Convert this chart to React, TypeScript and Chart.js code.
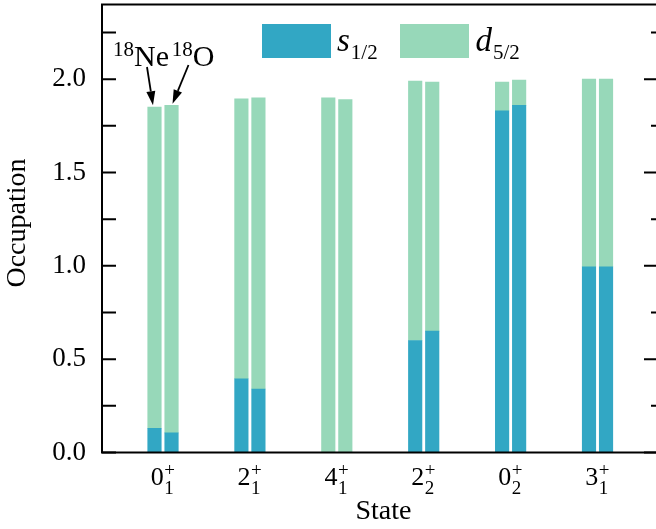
import React, { useEffect, useRef } from 'react';
import { Chart, registerables } from 'chart.js';

Chart.register(...registerables);

// ---- data ----
const stateSpin = ['0', '2', '4', '2', '0', '3'];
const stateIndex = ['1', '1', '1', '2', '2', '1'];
// 18Ne (left bar of each pair)
const neS = [0.13, 0.395, 0.0, 0.6, 1.83, 0.995];
const neD = [1.72, 1.5, 1.9, 1.39, 0.155, 1.005];
// 18O (right bar of each pair)
const oS = [0.105, 0.34, 0.0, 0.65, 1.86, 0.995];
const oD = [1.755, 1.56, 1.89, 1.335, 0.135, 1.005];

const yMajorTicks = [0, 0.5, 1.0, 1.5, 2.0];
const yMinorTicks = [0.25, 0.75, 1.25, 1.75, 2.25];
const seriesNames = [
  { main: 's', sub: '1/2' },
  { main: 'd', sub: '5/2' },
];
const nuclei = [
  { mass: '18', sym: 'Ne' },
  { mass: '18', sym: 'O' },
];

const BLUE = '#32a7c4';
const GREEN = '#97d8b9';
const FONT = "'Liberation Serif', 'Times New Roman', serif";
const PAIR = 0.098;

const sData: { x: number; y: number }[] = [];
const dData: { x: number; y: number }[] = [];
stateSpin.forEach((_, i) => {
  sData.push({ x: i - PAIR, y: neS[i] });
  sData.push({ x: i + PAIR, y: oS[i] });
  dData.push({ x: i - PAIR, y: neD[i] });
  dData.push({ x: i + PAIR, y: oD[i] });
});

function arrow(ctx: CanvasRenderingContext2D, x0: number, y0: number, x1: number, y1: number) {
  const ang = Math.atan2(y1 - y0, x1 - x0);
  const hl = 14;
  const hw = 4.5;
  const bx = x1 - hl * Math.cos(ang);
  const by = y1 - hl * Math.sin(ang);
  ctx.beginPath();
  ctx.moveTo(x0, y0);
  ctx.lineTo(bx, by);
  ctx.lineWidth = 1.8;
  ctx.strokeStyle = '#000';
  ctx.stroke();
  ctx.beginPath();
  ctx.moveTo(x1, y1);
  ctx.lineTo(bx + hw * Math.sin(ang), by - hw * Math.cos(ang));
  ctx.lineTo(bx - hw * Math.sin(ang), by + hw * Math.cos(ang));
  ctx.closePath();
  ctx.fillStyle = '#000';
  ctx.fill();
}

const decorPlugin = {
  id: 'decor',
  afterDraw(chart: any) {
    const ctx: CanvasRenderingContext2D = chart.ctx;
    const { left, right, top, bottom } = chart.chartArea;
    const xs = chart.scales.x;
    const ys = chart.scales.y;
    ctx.save();

    // frame
    ctx.strokeStyle = '#000';
    ctx.lineWidth = 2;
    ctx.strokeRect(left, top, right - left, bottom - top);

    // ticks
    ctx.beginPath();
    yMajorTicks.forEach((v) => {
      const py = ys.getPixelForValue(v);
      ctx.moveTo(left, py);
      ctx.lineTo(left + 14, py);
      ctx.moveTo(right, py);
      ctx.lineTo(right - 14, py);
    });
    yMinorTicks.forEach((v) => {
      const py = ys.getPixelForValue(v);
      ctx.moveTo(left, py);
      ctx.lineTo(left + 14, py);
      ctx.moveTo(right, py);
      ctx.lineTo(right - 7, py);
    });
    ctx.stroke();

    ctx.fillStyle = '#000';
    ctx.textBaseline = 'alphabetic';
    ctx.textAlign = 'left';

    // x tick labels with sub/superscripts
    stateSpin.forEach((d, i) => {
      const cx = xs.getPixelForValue(i);
      ctx.font = `26px ${FONT}`;
      const dw = ctx.measureText(d).width;
      ctx.font = `19px ${FONT}`;
      const sw = Math.max(ctx.measureText(stateIndex[i]).width, ctx.measureText('+').width);
      const start = cx - (dw + 1 + sw) / 2;
      ctx.font = `26px ${FONT}`;
      ctx.fillText(d, start, 485);
      ctx.font = `19px ${FONT}`;
      ctx.fillText(stateIndex[i], start + dw + 0.5, 494);
      ctx.fillText('+', start + dw + 0.5, 476);
    });

    // x title
    ctx.font = `28px ${FONT}`;
    ctx.textAlign = 'center';
    ctx.fillText('State', 383.5, 519);

    // y title
    ctx.save();
    ctx.translate(18, 223);
    ctx.rotate(-Math.PI / 2);
    ctx.font = `28px ${FONT}`;
    ctx.textAlign = 'center';
    ctx.textBaseline = 'middle';
    ctx.fillText('Occupation', 0, 0);
    ctx.restore();

    // legend
    const legendBoxes = [
      { x: 262, color: BLUE, tx: 337 },
      { x: 400, color: GREEN, tx: 475.5 },
    ];
    ctx.textAlign = 'left';
    legendBoxes.forEach((b, k) => {
      ctx.fillStyle = b.color;
      ctx.fillRect(b.x, 24, 69, 34);
      ctx.fillStyle = '#000';
      ctx.font = `italic 33px ${FONT}`;
      ctx.fillText(seriesNames[k].main, b.tx, 51);
      const mw = ctx.measureText(seriesNames[k].main).width;
      ctx.font = `21px ${FONT}`;
      ctx.fillText(seriesNames[k].sub, b.tx + mw + 1, 59);
    });

    // nucleus annotations
    const labelX = [113, 171.7];
    nuclei.forEach((n, k) => {
      ctx.font = `21px ${FONT}`;
      ctx.fillText(n.mass, labelX[k], 56);
      const mw = ctx.measureText(n.mass).width;
      ctx.font = `30px ${FONT}`;
      ctx.fillText(n.sym, labelX[k] + mw, 66);
    });
    // arrows to the first pair of bars
    const neTipX = xs.getPixelForValue(0 - PAIR) - 1.5;
    const neTipY = ys.getPixelForValue(neS[0] + neD[0]) - 2;
    const oTipX = xs.getPixelForValue(0 + PAIR) + 1;
    const oTipY = ys.getPixelForValue(oS[0] + oD[0]) - 1.5;
    arrow(ctx, 147, 67, neTipX, neTipY);
    arrow(ctx, 188.5, 65, oTipX, oTipY);

    ctx.restore();
  },
};

export default function App() {
  const ref = useRef<HTMLCanvasElement | null>(null);
  useEffect(() => {
    if (!ref.current) return;
    const chart = new Chart(ref.current, {
      type: 'bar',
      data: {
        datasets: [
          { label: 's1/2', data: sData, backgroundColor: BLUE, borderWidth: 0, barThickness: 13.5 },
          { label: 'd5/2', data: dData, backgroundColor: GREEN, borderWidth: 0, barThickness: 13.5 },
        ],
      },
      options: {
        animation: false,
        responsive: false,
        devicePixelRatio: 1,
        layout: { padding: { top: 4.5, bottom: 76.5, left: 0, right: 4 } },
        plugins: { legend: { display: false }, tooltip: { enabled: false } },
        scales: {
          x: {
            type: 'linear',
            min: -0.702,
            max: 5.696,
            stacked: true,
            display: false,
            offset: false,
          },
          y: {
            type: 'linear',
            min: 0,
            max: 2.4,
            stacked: true,
            afterFit: (s: any) => {
              s.width = 102;
              s.paddingTop = 0;
              s.paddingBottom = 0;
            },
            afterBuildTicks: (s: any) => {
              s.ticks = yMajorTicks.map((v) => ({ value: v }));
            },
            ticks: {
              font: { family: FONT, size: 27 },
              color: '#000',
              padding: 16,
              callback: (v: any) => Number(v).toFixed(1),
            },
            grid: { display: false, drawTicks: false, tickLength: 0 },
            border: { display: false },
          },
        },
      } as any,
      plugins: [decorPlugin],
    });
    return () => chart.destroy();
  }, []);
  return (
    <div style={{ position: 'fixed', left: 0, top: 0, width: 656, height: 529, overflow: 'hidden', background: '#fff' }}>
      <canvas ref={ref} width={662} height={529} style={{ display: 'block' }} />
    </div>
  );
}
